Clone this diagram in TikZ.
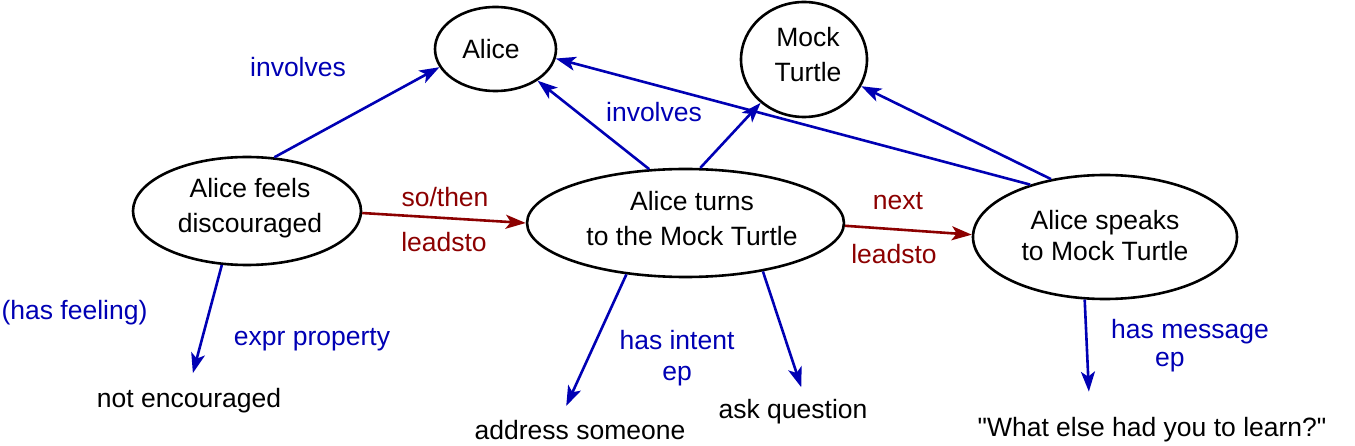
\documentclass[tikz,border=0pt]{standalone}
\usepackage{fontspec}
\setmainfont{Liberation Sans}[Ligatures=TeXOff]
\usetikzlibrary{arrows.meta,shapes.geometric}
\definecolor{eblue}{RGB}{0,0,180}
\definecolor{ered}{RGB}{140,0,0}
\begin{document}
\begin{tikzpicture}[x=1pt,y=-1pt,
  every node/.style={font=\fontsize{26.5}{35}\selectfont},
  ell/.style={draw=black, line width=2.6pt, ellipse, inner sep=0pt, align=center},
  lbl/.style={inner sep=0pt, text=eblue},
  rlbl/.style={inner sep=0pt, text=ered},
  txt/.style={inner sep=0pt, text=black},
  tipstyle/.style={-{Stealth[length=20pt,width=14pt,inset=5pt]}},
  barrow/.style={draw=eblue, line width=2.6pt, tipstyle},
  rarrow/.style={draw=ered, line width=2.6pt, tipstyle}]
\useasboundingbox (0,0) rectangle (1355,446);

% main nodes
\node[ell, minimum width=121pt, minimum height=84pt] (alice) at (495.5,49) {Alice\hspace*{9pt}};
\node[ell, minimum width=126pt, minimum height=115pt] (mock) at (804,59.5) {\hspace*{8pt}Mock\\\hspace*{8pt}Turtle\rule[-10pt]{0pt}{0pt}};
\node[ell, minimum width=228pt, minimum height=108pt] (feels) at (247,211) {\hspace*{6pt}Alice feels\\\hspace*{6pt}discouraged\rule[-12pt]{0pt}{0pt}};
\node[ell, minimum width=315pt, minimum height=108pt] (turns) at (685.5,223) {\hspace*{13pt}Alice turns\\\hspace*{13pt}to the Mock Turtle\rule[-10pt]{0pt}{0pt}};
\node[ell, minimum width=264pt, minimum height=124pt] (speaks) at (1105,237) {Alice speaks\\[-4pt]to Mock Turtle\rule[-4pt]{0pt}{0pt}};

% plain text nodes
\node[txt, anchor=base] (ne) at (189,407) {not encouraged};
\node[txt, anchor=base] (addr) at (580,439) {address someone};
\node[txt, anchor=base] (ask) at (793,418) {ask question};
\node[txt, anchor=base] (what) at (1152,436) {"What else had you to learn?"};

% labels
\node[lbl, anchor=base] (inv1) at (298,77) {involves};
\node[lbl, anchor=base] (inv2) at (654,122) {involves};
\node[rlbl, anchor=base] (so) at (445,207) {so/then};
\node[rlbl, anchor=base] (lt1) at (444,252) {leadsto};
\node[rlbl, anchor=base] (nx) at (898,210) {next};
\node[rlbl, anchor=base] (lt2) at (894,264) {leadsto};
\node[lbl, anchor=base] (hf) at (74.5,320) {(has feeling)};
\node[lbl, anchor=base] (ep1) at (312,345) {expr property};
\node[lbl, anchor=north, align=center] (hi) at (677,330) {has intent\\[-4pt]ep};
\node[lbl, anchor=north west, align=left] (hm) at (1111,319) {has message\\[-7pt]\hspace*{44pt}ep};

% connectors
\draw[barrow] (feels.63) -- (alice.198);
\draw[barrow] (turns.124) -- (alice.323);
\draw[barrow] (turns.75) -- (mock.225);
\draw[barrow] (speaks.145) -- (alice.351);
\draw[barrow] (speaks.133) -- (mock.335);
\draw[rarrow] (feels.359) -- (turns.180);
\draw[rarrow] (turns.359) -- (speaks.179);
\draw[barrow, shorten >=15pt] (feels.245) -- (ne.north);
\draw[barrow, shorten >=15pt] (turns.221) -- ([xshift=-20pt]addr.north);
\draw[barrow, shorten >=12pt] (turns.328) -- ([xshift=12pt]ask.north);
\draw[barrow, shorten >=25pt] (speaks.252) -- ([xshift=-62pt]what.north);
\end{tikzpicture}
\end{document}
